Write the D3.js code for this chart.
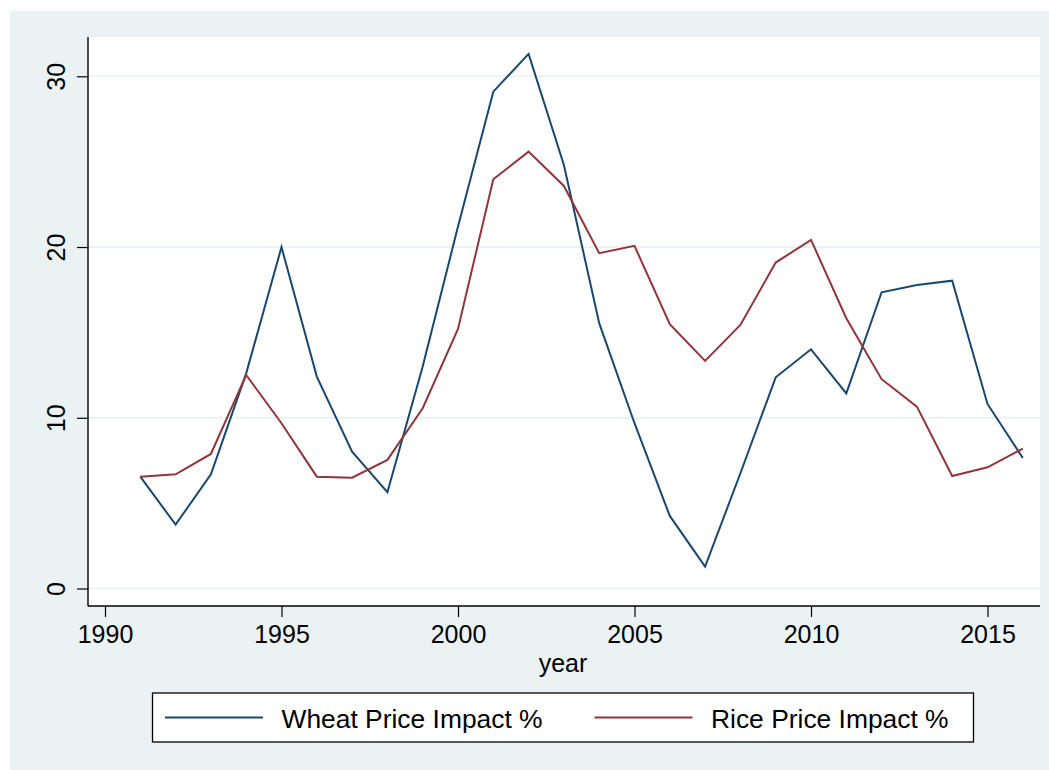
<!DOCTYPE html>
<html>
<head>
<meta charset="utf-8">
<script src="https://cdn.jsdelivr.net/npm/d3@7"></script>
<style>
  html, body { margin: 0; padding: 0; background: #ffffff; }
  svg { display: block; }
  text { font-family: "Liberation Sans", Arial, Helvetica, sans-serif; fill: #000; }
</style>
</head>
<body>
<svg id="chart" width="1049" height="770"></svg>
<script>
const years = [1991,1992,1993,1994,1995,1996,1997,1998,1999,2000,2001,2002,2003,2004,2005,2006,2007,2008,2009,2010,2011,2012,2013,2014,2015,2016];
const wheat = [6.55,3.74,6.69,12.6,20.0,12.41,8.01,5.64,13.0,21.2,29.1,31.31,24.81,15.54,9.68,4.25,1.28,6.75,12.37,14.01,11.43,17.35,17.78,18.03,10.81,7.64];
const rice  = [6.55,6.69,7.88,12.51,9.68,6.55,6.49,7.53,10.56,15.2,23.97,25.59,23.58,19.64,20.07,15.48,13.33,15.44,19.09,20.42,15.83,12.26,10.65,6.59,7.10,8.19];
const xTicks = [1990,1995,2000,2005,2010,2015];
const yTicks = [0,10,20,30];
const seriesNames = ["Wheat Price Impact %", "Rice Price Impact %"];
const seriesColors = ["#1a476f", "#90353b"];
const xTitle = "year";

const svg = d3.select("#chart");
const bg = "#eaf2f3";

// outer background
svg.append("rect").attr("x", 10).attr("y", 11).attr("width", 1039).attr("height", 759).attr("fill", bg);

const plot = {left: 88, right: 1040, top: 37, bottom: 606};
svg.append("rect").attr("x", plot.left).attr("y", plot.top)
  .attr("width", plot.right - plot.left).attr("height", plot.bottom - plot.top).attr("fill", "#fff");

// scales calibrated to the reference's plot region
const x = d3.scaleLinear().domain([1990, 2015]).range([105, 987.5]);
const y = d3.scaleLinear().domain([0, 30]).range([588.5, 76.3]);

// gridlines
svg.append("g").selectAll("line").data(yTicks).join("line")
  .attr("x1", plot.left).attr("x2", plot.right)
  .attr("y1", d => y(d)).attr("y2", d => y(d))
  .attr("stroke", bg).attr("stroke-width", 2);

// y axis
const yAxis = svg.append("g").attr("transform", `translate(${plot.left},0)`)
  .call(d3.axisLeft(y).tickValues(yTicks).tickSize(11).tickSizeOuter(0).tickFormat(d3.format("d")));
yAxis.select(".domain").remove();
yAxis.selectAll(".tick line").attr("stroke", "#000").attr("stroke-width", 1.2);
yAxis.selectAll(".tick text").attr("font-size", 25).attr("font-family", "Liberation Sans, Arial, sans-serif")
  .attr("text-anchor", "middle").attr("x", null).attr("dy", null)
  .attr("transform", "translate(-23.5,0) rotate(-90)").attr("y", 0).attr("fill", "#000");
svg.append("line").attr("x1", plot.left).attr("x2", plot.left).attr("y1", plot.top).attr("y2", plot.bottom)
  .attr("stroke", "#000").attr("stroke-width", 1.4);

// x axis
const xAxis = svg.append("g").attr("transform", `translate(0,${plot.bottom})`)
  .call(d3.axisBottom(x).tickValues(xTicks).tickSize(11).tickSizeOuter(0).tickFormat(d3.format("d")));
xAxis.select(".domain").remove();
xAxis.selectAll(".tick line").attr("stroke", "#000").attr("stroke-width", 1.2);
xAxis.selectAll(".tick text").attr("font-size", 25).attr("font-family", "Liberation Sans, Arial, sans-serif")
  .attr("dy", null).attr("y", 36.7).attr("fill", "#000");
svg.append("line").attr("x1", plot.left).attr("x2", plot.right).attr("y1", plot.bottom).attr("y2", plot.bottom)
  .attr("stroke", "#000").attr("stroke-width", 1.4);

svg.append("text").attr("x", 563).attr("y", 672).attr("text-anchor", "middle")
  .attr("font-size", 25).text(xTitle);

// lines
const line = d3.line().x(d => x(d[0])).y(d => y(d[1]));
[wheat, rice].forEach((vals, i) => {
  svg.append("path").datum(years.map((yr, j) => [yr, vals[j]]))
    .attr("d", line).attr("fill", "none").attr("stroke", seriesColors[i])
    .attr("stroke-width", 2).attr("stroke-linejoin", "miter");
});

// legend
svg.append("rect").attr("x", 152.5).attr("y", 693).attr("width", 821).attr("height", 49)
  .attr("fill", "#fff").attr("stroke", "#000").attr("stroke-width", 1.3);
const legendX = [165, 594.5];
seriesNames.forEach((name, i) => {
  svg.append("line").attr("x1", legendX[i]).attr("x2", legendX[i] + 98)
    .attr("y1", 717.5).attr("y2", 717.5).attr("stroke", seriesColors[i]).attr("stroke-width", 2);
  svg.append("text").attr("x", legendX[i] + 116.5).attr("y", 727.5)
    .attr("font-size", 26.4).text(name);
});
</script>
</body>
</html>
